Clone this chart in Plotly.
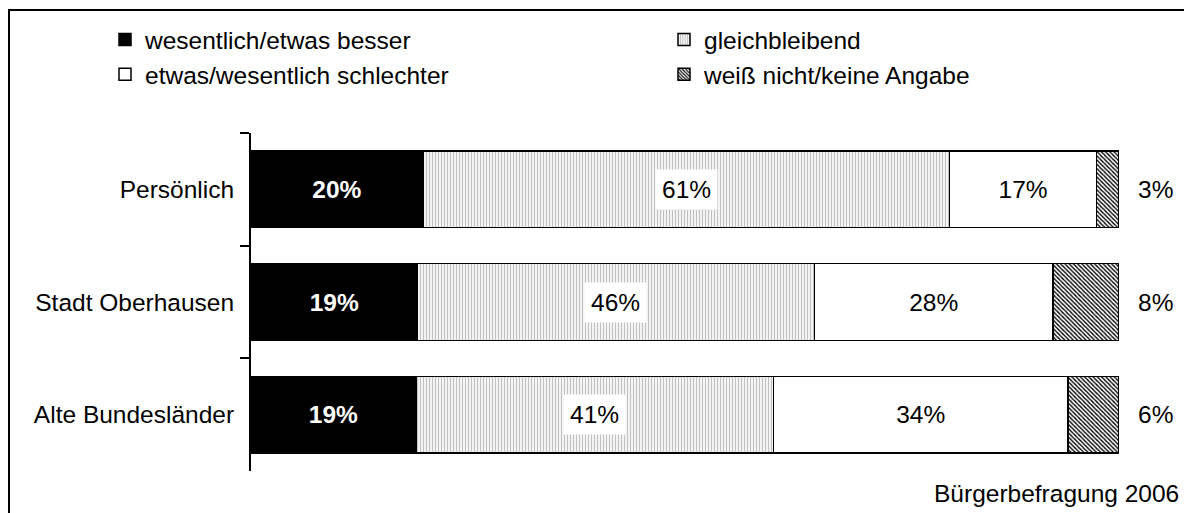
import plotly.graph_objects as go

categories = ["Persönlich", "Stadt Oberhausen", "Alte Bundesländer"]
series_names = ["wesentlich/etwas besser", "gleichbleibend",
                "etwas/wesentlich schlechter", "weiß nicht/keine Angabe"]
besser = [19.8, 19.2, 19.0]
gleich = [60.7, 45.7, 41.2]
schlechter = [16.9, 27.5, 33.9]
weissnicht = [2.6, 7.6, 5.9]
besser_txt = ["20%", "19%", "19%"]
gleich_txt = ["61%", "46%", "41%"]
schlechter_txt = ["17%", "28%", "34%"]
weissnicht_txt = ["3%", "8%", "6%"]
source_text = "Bürgerbefragung 2006"

# page body adds an 8px offset; layout is expressed in screenshot pixels
OFF = 8
W, H = 1192 - OFF, 513 - OFF
ML, MR, MT, MB = 251 - OFF, 73, 133 - OFF, 42
PW, PH = W - ML - MR, H - MT - MB
FONT = "Liberation Sans, Arial, sans-serif"
FS = 24.5


def px_x(px):
    return (px - OFF - ML) / PW


def px_y(py):
    return (H - MB - (py - OFF)) / PH


fig = go.Figure()
line = dict(color="black", width=1.5)

fig.add_trace(go.Bar(
    y=categories, x=besser, name=series_names[0], orientation="h", legend="legend",
    marker=dict(color="black", line=line),
    text=besser_txt, textposition="inside", insidetextanchor="middle",
    textangle=0, textfont=dict(color="white", size=FS, family=FONT, weight="bold"),
    hoverinfo="skip"))
fig.add_trace(go.Bar(
    y=categories, x=gleich, name=series_names[1], orientation="h", legend="legend2",
    marker=dict(color="white", line=line,
                pattern=dict(shape="|", size=3, solidity=0.3,
                             fgcolor="#bcbcbc", bgcolor="#f3f3f3", fillmode="replace")),
    hoverinfo="skip"))
fig.add_trace(go.Bar(
    y=categories, x=schlechter, name=series_names[2], orientation="h", legend="legend",
    marker=dict(color="white", line=line),
    text=schlechter_txt, textposition="inside", insidetextanchor="middle",
    textangle=0, textfont=dict(color="black", size=FS, family=FONT),
    hoverinfo="skip"))
fig.add_trace(go.Bar(
    y=categories, x=weissnicht, name=series_names[3], orientation="h", legend="legend2",
    marker=dict(color="white", line=line,
                pattern=dict(shape="\\", size=3, solidity=0.45,
                             fgcolor="black", bgcolor="white", fillmode="replace")),
    hoverinfo="skip"))

annotations = []
for cat, b, g, t in zip(categories, besser, gleich, gleich_txt):
    annotations.append(dict(x=b + g / 2, y=cat, xref="x", yref="y", text=t,
                            showarrow=False, bgcolor="white", borderpad=6,
                            font=dict(size=FS, family=FONT, color="black")))
for cat, t in zip(categories, weissnicht_txt):
    annotations.append(dict(x=100, y=cat, xref="x", yref="y", text=t,
                            showarrow=False, xanchor="left", xshift=17,
                            font=dict(size=FS, family=FONT, color="black")))
annotations.append(dict(x=px_x(1181), y=px_y(493), xref="paper", yref="paper",
                        text=source_text, showarrow=False, xanchor="right",
                        yanchor="middle", font=dict(size=FS, family=FONT, color="black")))

leg_common = dict(orientation="v", xref="paper", yref="paper",
                  xanchor="left", yanchor="top", traceorder="normal",
                  font=dict(size=FS, family=FONT, color="black"),
                  bgcolor="rgba(0,0,0,0)", tracegroupgap=0)

fig.update_layout(
    width=W, height=H, barmode="stack", bargap=0.32,
    margin=dict(l=ML, r=MR, t=MT, b=MB, pad=0, autoexpand=False),
    plot_bgcolor="white", paper_bgcolor="white",
    font=dict(family=FONT, size=FS, color="black"),
    xaxis=dict(range=[0, 100], visible=False, fixedrange=True),
    yaxis=dict(autorange="reversed", showline=True, linecolor="black", linewidth=2,
               ticks="outside", tickson="boundaries", ticklen=9, tickwidth=2,
               tickcolor="black", ticklabelstandoff=10, showgrid=False,
               tickfont=dict(size=FS, family=FONT, color="black")),
    legend=dict(x=px_x(105), y=px_y(17), **leg_common),
    legend2=dict(x=px_x(664), y=px_y(17), **leg_common),
    annotations=annotations,
    shapes=[dict(type="rect", xref="paper", yref="paper",
                 x0=px_x(OFF + 1), x1=px_x(1192 + 20),
                 y0=px_y(513 + 20), y1=px_y(10),
                 line=dict(color="black", width=2), fillcolor="rgba(0,0,0,0)",
                 layer="below")],
    showlegend=True,
)

fig.write_html("out.html")
